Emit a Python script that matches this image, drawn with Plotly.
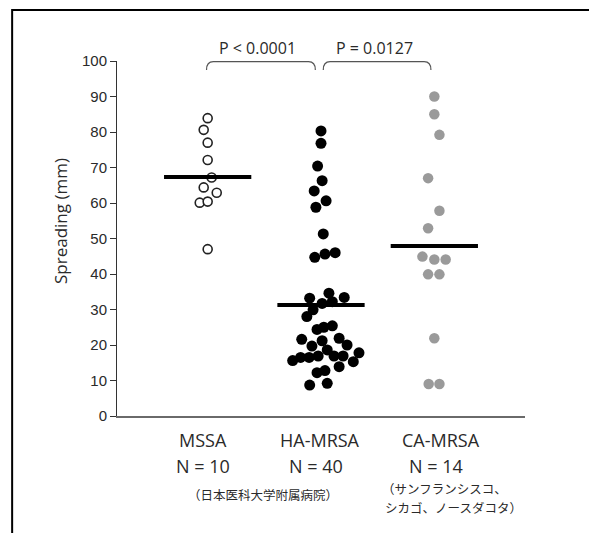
import plotly.graph_objects as go

# ---- data ----
categories = ["MSSA", "HA-MRSA", "CA-MRSA"]
counts = ["N = 10", "N = 40", "N = 14"]
ha_note = "（日本医科大学附属病院）"
ca_note = ["（サンフランシスコ、", "シカゴ、ノースダコタ）"]

mssa_vals = [83.9, 80.6, 77.0, 72.1, 67.2, 64.4, 62.9, 60.1, 60.4, 47.0]
mssa_jit = [0.0, -0.035, 0.0, 0.0, 0.035, -0.035, 0.08, -0.07, 0.0, 0.0]

ha_vals = [80.3, 76.8, 70.4, 66.3, 63.4, 60.6, 58.8, 51.3, 44.7, 45.6,
           46.0, 33.2, 34.6, 33.4, 31.7, 32.2, 29.9, 28.0, 24.4, 25.0,
           25.4, 21.6, 21.2, 21.9, 19.7, 20.0, 18.6, 15.6, 16.5, 16.5,
           16.9, 16.9, 16.9, 17.8, 15.3, 13.9, 12.2, 12.8, 8.7, 9.2]
ha_jit = [0.0, 0.0, -0.03, 0.01, -0.06, 0.045, -0.045, 0.02, -0.055, 0.035,
          0.125, -0.1, 0.07, 0.205, 0.01, 0.1, -0.07, -0.125, -0.035, 0.025,
          0.1, -0.17, 0.01, 0.16, -0.08, 0.23, 0.055, -0.25, -0.18, -0.105,
          -0.025, 0.115, 0.195, 0.335, 0.285, 0.16, -0.035, 0.035, -0.1, 0.055]

ca_vals = [90.0, 85.0, 79.2, 67.0, 57.8, 52.9, 44.9, 44.1, 44.1, 39.9, 39.9, 21.9, 9.0, 9.0]
ca_jit = [0.0, 0.0, 0.045, -0.055, 0.045, -0.055, -0.105, 0.0, 0.1, -0.055, 0.045, 0.0, -0.05, 0.045]

means = [67.3, 31.3, 47.9]
p_labels = ["P < 0.0001", "P = 0.0127"]
y_ticks = list(range(0, 101, 10))

TXT = "Open Sans"
TC = "#2a2a2a"
JP = "Noto Sans CJK JP"

fig = go.Figure()

fig.add_trace(go.Scatter(
    x=[1 + j for j in mssa_jit], y=mssa_vals, mode="markers",
    marker=dict(size=9, color="white", line=dict(color="#222222", width=1.6)),
    hoverinfo="y", showlegend=False))
fig.add_trace(go.Scatter(
    x=[2 + j for j in ha_jit], y=ha_vals, mode="markers",
    marker=dict(size=11, color="black", line=dict(width=0)),
    hoverinfo="y", showlegend=False))
fig.add_trace(go.Scatter(
    x=[3 + j for j in ca_jit], y=ca_vals, mode="markers",
    marker=dict(size=10.5, color="#9a9a9a", line=dict(width=0)),
    hoverinfo="y", showlegend=False))

# mean bars
for i, m in enumerate(means):
    fig.add_shape(type="line", xref="x", yref="y", x0=i + 1 - 0.385, x1=i + 1 + 0.385,
                  y0=m, y1=m, line=dict(color="black", width=4), layer="above")

# significance brackets
spans = [(0.99, 1.95), (2.02, 2.97)]
label_x = [1.444, 2.476]
for k, (xa, xb) in enumerate(spans):
    top, bot, r = 0.998, 0.975, 0.06
    path = (f"M {xa},{bot} Q {xa},{top} {xa + r},{top} "
            f"L {xb - r},{top} Q {xb},{top} {xb},{bot}")
    fig.add_shape(type="path", xref="x", yref="paper", path=path,
                  line=dict(color="#555555", width=1.2))
    fig.add_annotation(x=label_x[k], y=1.037, xref="x", yref="paper",
                       xanchor="center", yanchor="middle",
                       text=p_labels[k], showarrow=False,
                       font=dict(family=TXT, size=16, color=TC))

# category labels below the axis
cat_x = [0.96, 1.99, 3.055]
cnt_x = [0.962, 1.956, 3.013]
for i, c in enumerate(categories):
    fig.add_annotation(x=cat_x[i], y=-0.068, xref="x", yref="paper", text=c,
                       xanchor="center", yanchor="middle",
                       showarrow=False, font=dict(family=TXT, size=18, color=TC))
    fig.add_annotation(x=cnt_x[i], y=-0.141, xref="x", yref="paper", text=counts[i],
                       xanchor="center", yanchor="middle",
                       showarrow=False, font=dict(family=TXT, size=18, color=TC))
fig.add_annotation(x=1.488, y=-0.22, xref="x", yref="paper", text=ha_note,
                   xanchor="center", yanchor="middle",
                   showarrow=False, font=dict(family=JP, size=12.5, color=TC))
fig.add_annotation(x=2.52, y=-0.2056, xref="x", yref="paper", text=ca_note[0],
                   xanchor="left", yanchor="middle",
                   showarrow=False, font=dict(family=JP, size=12.5, color=TC))
fig.add_annotation(x=2.547, y=-0.259, xref="x", yref="paper", text=ca_note[1],
                   xanchor="left", yanchor="middle",
                   showarrow=False, font=dict(family=JP, size=12.5, color=TC))

# y axis title
fig.add_annotation(x=-0.14, y=0.549, xref="paper", yref="paper", text="Spreading (mm)",
                   textangle=-90, showarrow=False, xanchor="center", yanchor="middle",
                   font=dict(family=TXT, size=17, color=TC))

# outer frame
fig.add_shape(type="path", xref="paper", yref="paper",
              path="M -0.257,-0.40 L -0.257,1.1437 L 1.174,1.1437",
              line=dict(color="black", width=2))
fig.add_shape(type="line", xref="paper", yref="paper",
              x0=1.174, x1=1.174, y0=1.1437, y1=-0.40,
              line=dict(color="#aaaaaa", width=1))

# the page body adds an 8px margin, so the figure is 8px smaller each way
fig.update_layout(
    width=589, height=525,
    margin=dict(l=109, r=72, t=53, b=117),
    paper_bgcolor="white", plot_bgcolor="white",
    xaxis=dict(range=[0.2, 3.8], showgrid=False, zeroline=False, showticklabels=False,
               ticks="", showline=True, linecolor="#6a6a6a", linewidth=2, fixedrange=True),
    yaxis=dict(range=[0, 100], tickvals=y_ticks, showgrid=False, zeroline=False,
               showline=True, linecolor="#333333", linewidth=1, ticks="outside",
               ticklen=6, tickcolor="#333333", tickwidth=1,
               tickfont=dict(family="Liberation Sans", size=15, color=TC)),
)

fig.write_html("out.html")
